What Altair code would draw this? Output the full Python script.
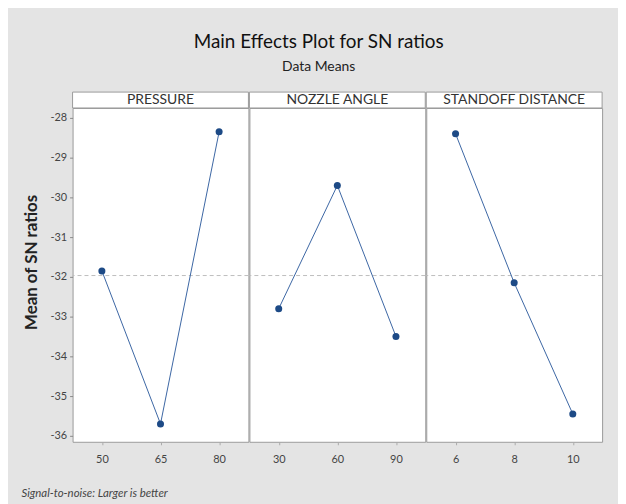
import altair as alt
import pandas as pd

factors = ["PRESSURE", "NOZZLE ANGLE", "STANDOFF DISTANCE"]
levels = [["50", "65", "80"], ["30", "60", "90"], ["6", "8", "10"]]
sn_means = [[-31.85, -35.70, -28.35], [-32.80, -29.70, -33.50], [-28.40, -32.15, -35.45]]
y_ticks = [-36, -35, -34, -33, -32, -31, -30, -29, -28]
overall_mean = sum(sn_means[0]) / 3

title_text = "Main Effects Plot for SN ratios"
subtitle_text = "Data Means"
y_title = "Mean of SN ratios"
footer_text = "Signal-to-noise: Larger is better"

FONT = "Lato"
PW, PH, SH = 177, 336, 16
LINE_COLOR = "#3b66a3"
PT_COLOR = "#1d4a86"
BORDER = "#9a9a9a"
YDOM = [-36.15, -27.75]

panels = []
for i, (fname, lv, vals) in enumerate(zip(factors, levels, sn_means)):
    df = pd.DataFrame({"level": lv, "sn": vals})
    if i == 0:
        yaxis = alt.Axis(values=y_ticks, title=y_title, grid=False, domain=False,
                         labelExpr="replace(datum.label, '\u2212', '-')",
                         tickColor="#888", tickSize=3, labelColor="#444", labelFontSize=11,
                         labelFont=FONT, titleFont=FONT, titleFontSize=17, titleFontWeight="bold",
                         titleColor="#222", titlePadding=9, labelPadding=3, titleY=155)
        xaxis = alt.Axis(title=footer_text, labelAngle=0, grid=False, domain=False,
                         tickColor="#aaa", tickSize=3, labelPadding=9, labelColor="#444",
                         labelFontSize=11, labelFont=FONT, titleFont=FONT, titleFontSize=11.5,
                         titleFontStyle="italic", titleFontWeight="normal", titleColor="#444",
                         titleX=-52, titleY=46, titleAlign="left")
    else:
        yaxis = None
        xaxis = alt.Axis(title=None, labelAngle=0, grid=False, domain=False,
                         tickColor="#aaa", tickSize=3, labelPadding=9, labelColor="#444",
                         labelFontSize=11, labelFont=FONT)
    base = alt.Chart(df).encode(
        x=alt.X("level:O", sort=lv, scale=alt.Scale(type="point", padding=0.5), axis=xaxis),
        y=alt.Y("sn:Q", scale=alt.Scale(domain=YDOM, nice=False, zero=False), axis=yaxis),
    )
    rule = alt.Chart(pd.DataFrame({"m": [overall_mean]})).mark_rule(
        color="#bdbdbd", strokeDash=[4, 3], strokeWidth=1
    ).encode(y=alt.Y("m:Q", scale=alt.Scale(domain=YDOM, nice=False, zero=False), axis=yaxis))
    line = base.mark_line(color=LINE_COLOR, strokeWidth=1)
    pts = base.mark_circle(size=50, color=PT_COLOR, opacity=1)
    sdf = pd.DataFrame({"f": [fname]})
    strip_box = alt.Chart(sdf).mark_rect(fill="white", stroke=BORDER, strokeWidth=1).encode(
        x=alt.value(0), x2=alt.value(PW), y=alt.value(-SH), y2=alt.value(0)
    )
    strip_txt = alt.Chart(sdf).mark_text(
        font=FONT, fontSize=14, color="#333", baseline="middle", align="center"
    ).encode(text="f:N", x=alt.value(PW / 2), y=alt.value(-SH / 2 + 0.5))
    plot = alt.layer(rule, line, pts, strip_box, strip_txt).properties(
        width=PW, height=PH, view=alt.ViewBackground(fill="white", stroke=BORDER)
    )
    panels.append(plot)

chart = alt.hconcat(*panels, spacing=-1).resolve_scale(x="independent").properties(
    title=alt.TitleParams(text=title_text, subtitle=subtitle_text, font=FONT, fontSize=19,
                          fontWeight="normal", color="#111", subtitleFont=FONT, subtitleFontSize=14,
                          subtitleColor="#222", anchor="middle", frame="bounds", offset=17,
                          subtitlePadding=8, dx=7),
    background="#e4e4e4",
    padding={"left": 12, "top": 24, "right": 15, "bottom": 4},
).configure_view(stroke=BORDER)

chart.save("out.html", embed_options={"renderer": "svg", "actions": False})
